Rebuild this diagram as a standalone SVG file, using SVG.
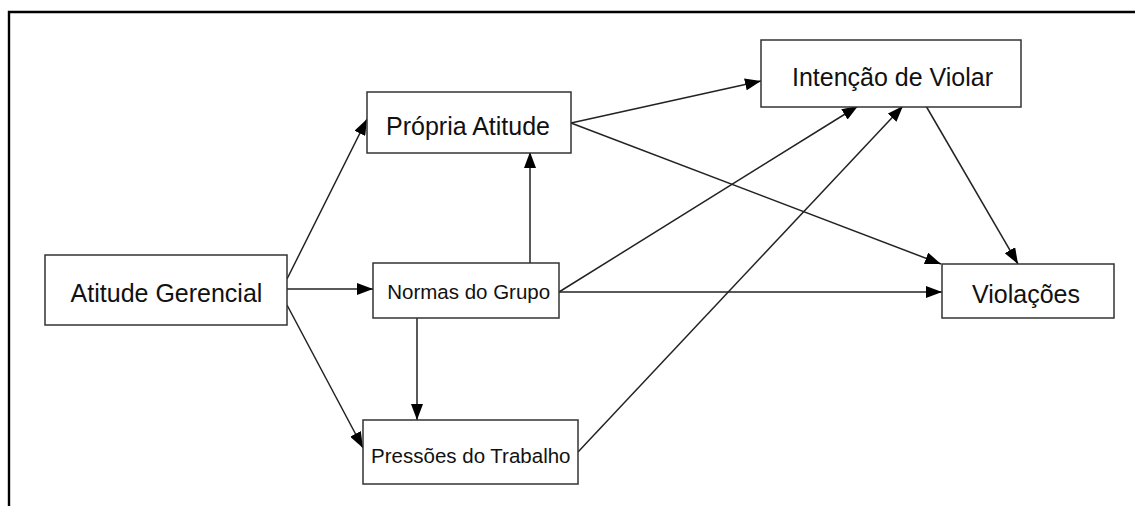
<svg xmlns="http://www.w3.org/2000/svg" width="1135" height="506" viewBox="0 0 1135 506">
<style>
.box{fill:#fff;stroke:#333;stroke-width:1.5}
.lbl{font-family:"Liberation Sans",Arial,sans-serif;fill:#111;text-anchor:middle}
.big{font-size:25px}
.small{font-size:20.5px}
.edge{fill:none;stroke:#222;stroke-width:1.5;marker-end:url(#arr)}
.frame{fill:none;stroke:#000;stroke-width:2.4}
</style>
<defs>
<marker id="arr" markerUnits="userSpaceOnUse" viewBox="0 0 16 12" markerWidth="16" markerHeight="12" refX="16" refY="6" orient="auto">
<path d="M0,0 L16,6 L0,12 z" fill="#000"/>
</marker>
</defs>
<rect width="1135" height="506" fill="#fff"/>
<path class="frame" d="M9,506 L9,12 L1135,12"/>
<g id="connectors">
<line class="edge" x1="287" y1="279" x2="367" y2="119"/>
<line class="edge" x1="287" y1="289" x2="373" y2="289"/>
<line class="edge" x1="287" y1="305" x2="363" y2="448"/>
<line class="edge" x1="530" y1="263" x2="530" y2="152"/>
<line class="edge" x1="417" y1="318" x2="417" y2="420"/>
<line class="edge" x1="559" y1="292" x2="858" y2="106"/>
<line class="edge" x1="559" y1="292" x2="942" y2="292"/>
<line class="edge" x1="578" y1="452" x2="903" y2="106"/>
<line class="edge" x1="571" y1="123" x2="761" y2="81"/>
<line class="edge" x1="571" y1="123" x2="941" y2="264"/>
<line class="edge" x1="926" y1="106" x2="1018" y2="264"/>
</g>
<g id="atitude-gerencial">
<rect class="box" x="45" y="255" width="242" height="70"/>
<text class="lbl big" x="166.5" y="302">Atitude Gerencial</text>
</g>
<g id="propria-atitude">
<rect class="box" x="367" y="92" width="204" height="61"/>
<text class="lbl big" x="468" y="135">Própria Atitude</text>
</g>
<g id="normas-do-grupo">
<rect class="box" x="373" y="263" width="186" height="55"/>
<text class="lbl small" x="468.7" y="299">Normas do Grupo</text>
</g>
<g id="pressoes-do-trabalho">
<rect class="box" x="363" y="420" width="215" height="64"/>
<text class="lbl small" x="470.8" y="462.5">Pressões do Trabalho</text>
</g>
<g id="intencao-de-violar">
<rect class="box" x="761" y="40" width="260" height="67"/>
<text class="lbl big" x="892.5" y="86">Intenção de Violar</text>
</g>
<g id="violacoes">
<rect class="box" x="942" y="264" width="172" height="54"/>
<text class="lbl big" x="1026" y="302.5">Violações</text>
</g>
</svg>
